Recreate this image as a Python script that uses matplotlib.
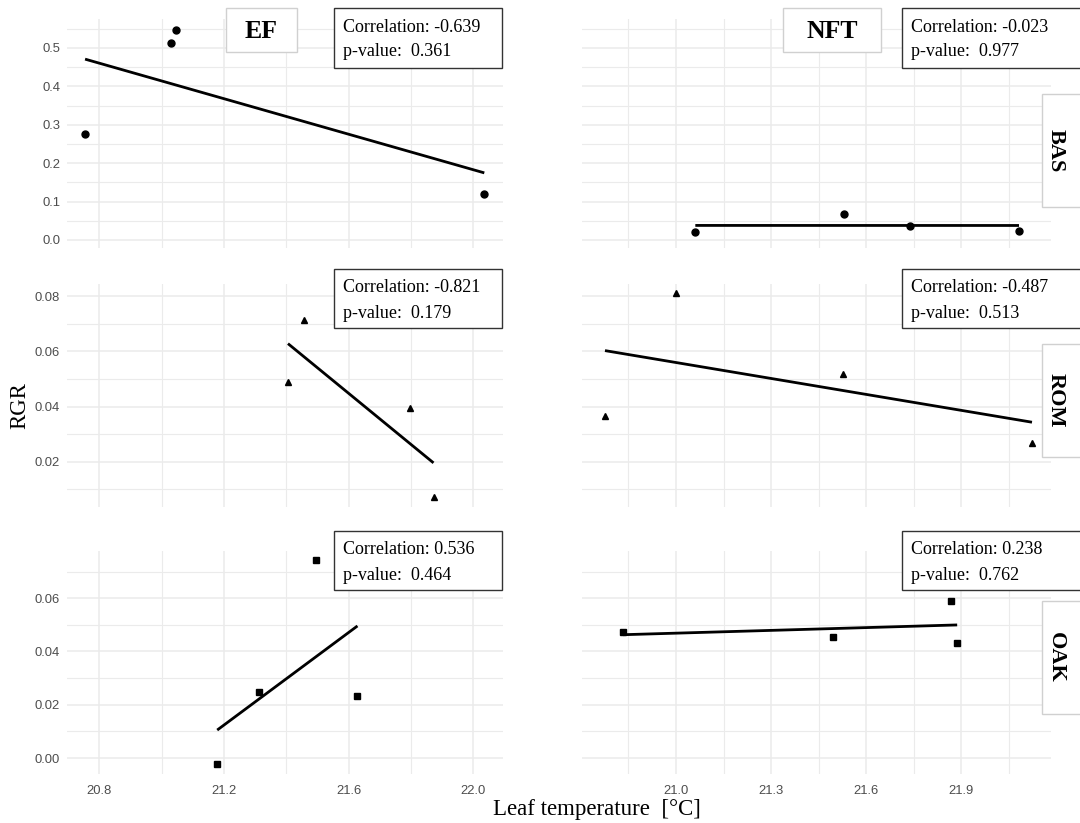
import numpy as np
import matplotlib
matplotlib.use("Agg")
import matplotlib.pyplot as plt
from matplotlib.patches import Rectangle

# ---------------- data ----------------
cols = ["EF", "NFT"]
rows = ["BAS", "ROM", "OAK"]

ef_bas_x = [20.754, 21.031, 21.046, 22.035]
ef_bas_y = [0.277, 0.512, 0.548, 0.119]
nft_bas_x = [21.061, 21.531, 21.737, 22.082]
nft_bas_y = [0.0216, 0.0685, 0.0365, 0.0243]

ef_rom_x = [21.405, 21.455, 21.797, 21.872]
ef_rom_y = [0.049, 0.0713, 0.0395, 0.0073]
nft_rom_x = [20.776, 21.001, 21.528, 22.123]
nft_rom_y = [0.0366, 0.0811, 0.0519, 0.0267]

ef_oak_x = [21.178, 21.312, 21.496, 21.628]
ef_oak_y = [-0.0021, 0.0249, 0.0744, 0.0231]
nft_oak_x = [20.833, 21.496, 21.868, 21.887]
nft_oak_y = [0.0473, 0.0454, 0.0589, 0.0431]

corr_labels = [["-0.639", "-0.023"], ["-0.821", "-0.487"], ["0.536", "0.238"]]
pval_labels = [["0.361", "0.977"], ["0.179", "0.513"], ["0.464", "0.762"]]

left_xticks = [20.8, 21.2, 21.6, 22.0]
right_xticks = [21.0, 21.3, 21.6, 21.9]
row_yticks = [[0.0, 0.1, 0.2, 0.3, 0.4, 0.5],
              [0.02, 0.04, 0.06, 0.08],
              [0.00, 0.02, 0.04, 0.06]]
row_ytick_labels = [["0.0", "0.1", "0.2", "0.3", "0.4", "0.5"],
                    ["0.02", "0.04", "0.06", "0.08"],
                    ["0.00", "0.02", "0.04", "0.06"]]

data = [[(ef_bas_x, ef_bas_y), (nft_bas_x, nft_bas_y)],
        [(ef_rom_x, ef_rom_y), (nft_rom_x, nft_rom_y)],
        [(ef_oak_x, ef_oak_y), (nft_oak_x, nft_oak_y)]]
markers = ["o", "^", "s"]

# ---------------- layout ----------------
W, H = 1080, 823
fig = plt.figure(figsize=(W / 100, H / 100), dpi=100)
fig.patch.set_facecolor("white")

def rect(x0, y0, x1, y1):
    return [x0 / W, 1 - y1 / H, (x1 - x0) / W, (y1 - y0) / H]

col_px = [(67, 503), (582, 1051)]
row_px = [(19, 248), (284, 507), (551, 774)]
col_xlim = [(20.696, 22.095), (20.7035, 22.183)]
row_ylim = [(-0.021, 0.5755), (0.0036, 0.0844), (-0.006, 0.0777)]
col_xticks = [left_xticks, right_xticks]
col_minor = [[21.0, 21.4, 21.8], [20.85, 21.15, 21.45, 21.75, 22.05]]
row_minor = [[0.05, 0.15, 0.25, 0.35, 0.45, 0.55],
             [0.01, 0.03, 0.05, 0.07],
             [0.01, 0.03, 0.05, 0.07]]

grid_c = "#ebebeb"
tick_c = "#4d4d4d"
serif = ["Liberation Serif", "DejaVu Serif"]
sans = ["Liberation Sans", "DejaVu Sans"]

for r in range(3):
    for c in range(2):
        x0, x1 = col_px[c]
        y0, y1 = row_px[r]
        ax = fig.add_axes(rect(x0, y0, x1, y1))
        ax.set_xlim(*col_xlim[c])
        ax.set_ylim(*row_ylim[r])
        for s in ax.spines.values():
            s.set_visible(False)
        ax.set_xticks(col_xticks[c])
        ax.set_xticks(col_minor[c], minor=True)
        ax.set_yticks(row_yticks[r])
        ax.set_yticks(row_minor[r], minor=True)
        ax.grid(True, which="major", color=grid_c, lw=1.1)
        ax.grid(True, which="minor", color=grid_c, lw=0.8)
        ax.set_axisbelow(True)
        ax.tick_params(which="both", length=0, colors=tick_c, labelsize=9.4)
        if r == 2:
            ax.set_xticklabels([f"{v:.1f}" for v in col_xticks[c]], fontfamily=sans)
            ax.tick_params(axis="x", pad=8)
        else:
            ax.set_xticklabels([])
        if c == 0:
            ax.set_yticklabels(row_ytick_labels[r], fontfamily=sans)
            ax.tick_params(axis="y", pad=5)
        else:
            ax.set_yticklabels([])
        xs, ys = data[r][c]
        xs = np.array(xs); ys = np.array(ys)
        ms = 5 if markers[r] != "s" else 4.5
        ax.plot(xs, ys, linestyle="none", marker=markers[r], color="black", ms=ms)
        k, b = np.polyfit(xs, ys, 1)
        lx = np.array([xs.min(), xs.max()])
        ax.plot(lx, k * lx + b, color="black", lw=2.0, solid_capstyle="butt")

# annotation boxes
box_x = [334, 902]
box_y = [(8, 68), (269, 328), (531, 590)]
for r in range(3):
    for c in range(2):
        bx0 = box_x[c]
        bx1 = 502 if c == 0 else 1085
        by0, by1 = box_y[r]
        fig.patches.append(Rectangle((bx0 / W, 1 - by1 / H), (bx1 - bx0) / W, (by1 - by0) / H,
                                     transform=fig.transFigure, facecolor="white",
                                     edgecolor="#333333", lw=1.0, zorder=5))
        fig.text((bx0 + 9) / W, 1 - (by0 + 19) / H, f"Correlation: {corr_labels[r][c]}",
                 fontfamily=serif, fontsize=13, va="center", ha="left", zorder=6)
        fig.text((bx0 + 9) / W, 1 - (by0 + 44) / H, f"p-value:  {pval_labels[r][c]}",
                 fontfamily=serif, fontsize=13, va="center", ha="left", zorder=6)

# column strips
col_strip = [(226, 297), (783, 881)]
for c in range(2):
    sx0, sx1 = col_strip[c]
    fig.patches.append(Rectangle((sx0 / W, 1 - 52 / H), (sx1 - sx0) / W, 44 / H,
                                 transform=fig.transFigure, facecolor="white",
                                 edgecolor="#d0d0d0", lw=1.0, zorder=5))
    fig.text((sx0 + sx1) / 2 / W, 1 - 31 / H, cols[c], fontfamily=serif, fontsize=18.5,
             fontweight="bold", ha="center", va="center", zorder=6)

# row strips
row_strip = [(94, 207), (344, 457), (601, 714)]
for r in range(3):
    sy0, sy1 = row_strip[r]
    fig.patches.append(Rectangle((1042 / W, 1 - sy1 / H), 45 / W, (sy1 - sy0) / H,
                                 transform=fig.transFigure, facecolor="white",
                                 edgecolor="#d0d0d0", lw=1.0, zorder=5))
    fig.text(1056 / W, 1 - (sy0 + sy1) / 2 / H, rows[r], fontfamily=serif, fontsize=16,
             fontweight="bold", rotation=-90, ha="center", va="center", zorder=6)

# axis labels
fig.text(597 / W, 1 - 810 / H, "Leaf temperature  [°C]", fontfamily=serif, fontsize=16.5,
         ha="center", va="center")
fig.text(20 / W, 1 - 406 / H, "RGR", fontfamily=serif, fontsize=16.5, rotation=90,
         ha="center", va="center")

fig.savefig("out.png", dpi=100, facecolor="white")
